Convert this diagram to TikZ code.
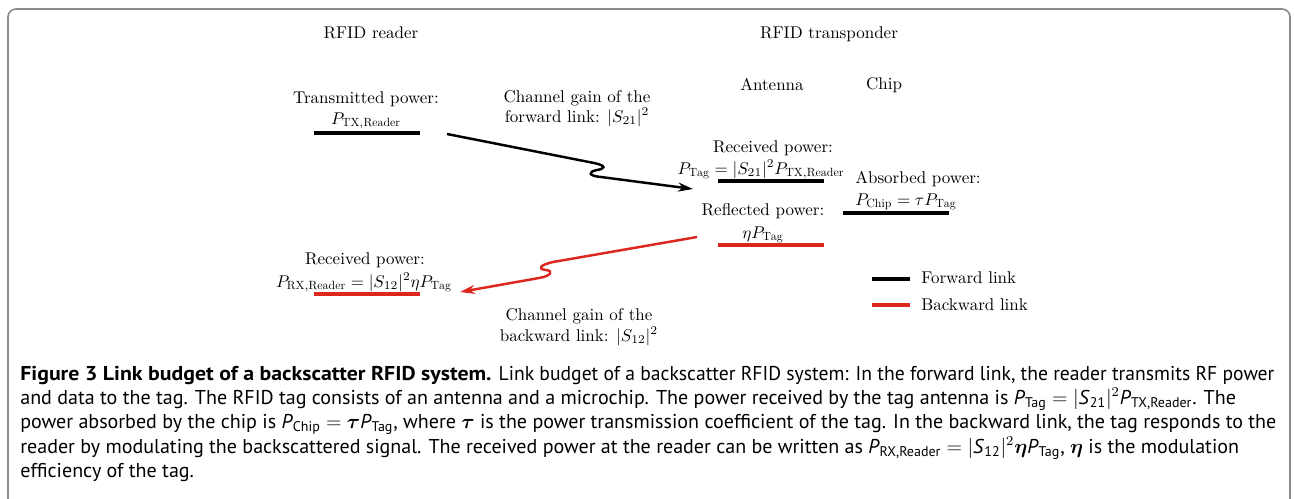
\documentclass[tikz,border=0pt]{standalone}
\usepackage{amsmath}
\usepackage{fontspec}
\setmainfont{lmroman10-regular.otf}[ItalicFont=lmroman10-italic.otf,BoldFont=lmroman10-bold.otf]
\newfontfamily\capfont{PT Sans}
\newfontfamily\capbold{PT Sans}[FakeStretch=1.09]
\newfontfamily\capnarrow{PT Sans}[FakeStretch=0.98]
\usetikzlibrary{arrows.meta}
\definecolor{linkred}{RGB}{220,38,30}
\definecolor{framegray}{RGB}{140,140,140}
\tikzset{
  lbl/.style={anchor=base,inner sep=0pt,font=\fontsize{10}{12}\selectfont},
  capline/.style={anchor=base west,inner sep=0pt,font=\capfont\fontsize{11.78}{14}\selectfont},
  uline/.style={line width=1.8pt},
  fwd/.style={line width=1.45pt,-{Stealth[length=8.8pt,width=5.3pt]}},
  bwd/.style={line width=1.45pt,linkred,-{Stealth[length=8.8pt,width=5.3pt]}},
}
\begin{document}
\begin{tikzpicture}[x=0.5882pt,y=-0.5882pt]
\useasboundingbox (0,0) rectangle (1294,498);
\draw[framegray,line width=0.95pt,rounded corners=4.7pt] (8,499) -- (8,9) -- (1290,9) -- (1290,499);

% headings
\node[lbl] (hreader) at (371,38) {RFID reader};
\node[lbl] (htrans) at (829,38) {RFID transponder};
\node[lbl] (hant) at (772,90) {Antenna};
\node[lbl] (hchip) at (884,89) {Chip};

% reader transmit
\node[lbl] (tx1) at (366,103) {Transmitted power:};
\node[lbl] (tx2) at (366,124) {$P_{\mathrm{TX,Reader}}$};
\draw[uline] (314,133) -- (420,133);

% forward channel
\node[lbl] (fc1) at (577,102) {Channel gain of the};
\node[lbl] (fc2) at (577,122) {forward link: $|S_{21}|^2$};

% tag received
\node[lbl] (rx1) at (773,152) {Received power:};
\node[lbl] (rx2) at (761,174) {$P_{\mathrm{Tag}}=|S_{21}|^2P_{\mathrm{TX,Reader}}$};
\draw[uline] (718,181) -- (824,181);

% chip absorbed
\node[lbl] (ab1) at (918,183) {Absorbed power:};
\node[lbl] (ab2) at (906,205) {$P_{\mathrm{Chip}}=\tau P_{\mathrm{Tag}}$};
\draw[uline] (843,213) -- (949,213);

% reflected
\node[lbl] (rf1) at (763,215) {Reflected power:};
\node[lbl] (rf2) at (763,238) {$\eta P_{\mathrm{Tag}}$};
\draw[uline,linkred] (718,245) -- (824,245);

% reader received
\node[lbl] (rr1) at (365,264) {Received power:};
\node[lbl] (rr2) at (364,287) {$P_{\mathrm{RX,Reader}}=|S_{12}|^2\eta P_{\mathrm{Tag}}$};
\draw[uline,linkred] (314,294) -- (420,294);

% backward channel
\node[lbl] (bc1) at (579,320) {Channel gain of the};
\node[lbl] (bc2) at (579,341) {backward link: $|S_{12}|^2$};

% arrows
\coordinate (fs) at (447,134);
\coordinate (fe) at (693,189);
\draw[fwd] (fs) -- (594,163) .. controls (608,166) and (604,169) .. (597,170)
  .. controls (587,172) and (589,176) .. (601,177) -- (fe);
\coordinate (bs) at (697,237);
\coordinate (be) at (460,292);
\draw[bwd] (bs) -- (553,262) .. controls (540,265) and (537,269) .. (546,270)
  .. controls (554,271) and (551,276) .. (539,278) -- (be);

% legend
\draw[uline] (872,279) -- (910,279);
\node[lbl,anchor=base west] (lf) at (921,283) {Forward link};
\draw[uline,linkred] (872,305) -- (910,305);
\node[lbl,anchor=base west] (lb) at (921,310) {Backward link};

% caption
\node[capline] (c1) at (20,380) {{\capbold\bfseries Figure 3 Link budget of a backscatter RFID system.} {\capnarrow Link budget of a backscatter RFID system: In the forward link, the reader transmits RF power}};
\node[capline] (c2) at (20,404) {and data to the tag. The RFID tag consists of an antenna and a microchip. The power received by the tag antenna is \textit{P}\textsubscript{Tag} $=$ $|$\textit{S}\textsubscript{21}$|^2$\textit{P}\textsubscript{TX,Reader}. The};
\node[capline] (c3) at (20,428) {power absorbed by the chip is \textit{P}\textsubscript{Chip} $=$ $\boldsymbol{\tau}$\textit{P}\textsubscript{Tag}, where $\boldsymbol{\tau}$ is the power transmission coefficient of the tag. In the backward link, the tag responds to the};
\node[capline] (c4) at (20,453) {reader by modulating the backscattered signal. The received power at the reader can be written as \textit{P}\textsubscript{RX,Reader} $=$ $|$\textit{S}\textsubscript{12}$|^2\boldsymbol{\eta}$\textit{P}\textsubscript{Tag}, $\boldsymbol{\eta}$ is the modulation};
\node[capline] (c5) at (20,477) {efficiency of the tag.};
\end{tikzpicture}
\end{document}
